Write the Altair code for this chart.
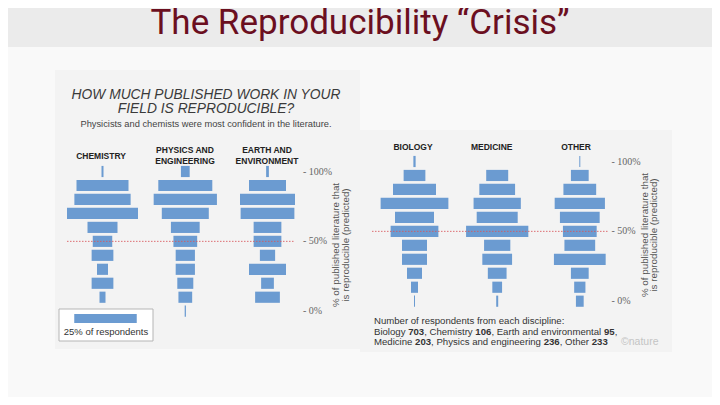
import altair as alt
import pandas as pd

# ---------------- data ----------------
levels = [100, 90, 80, 70, 60, 50, 40, 30, 20, 10, 0]   # % of literature predicted reproducible
chemistry = [0.8, 20.8, 22.5, 28.4, 12.0, 7.8, 8.7, 4.4, 8.7, 2.4, 0.0]
engineering = [3.5, 21.6, 25.3, 18.8, 11.5, 9.5, 7.7, 7.7, 6.4, 5.5, 0.5]
environment = [1.1, 14.8, 22.0, 21.5, 11.1, 11.1, 6.1, 14.8, 5.1, 9.9, 0.0]
biology = [0.9, 8.7, 17.2, 27.1, 15.6, 19.1, 10.0, 10.0, 6.0, 2.8, 0.4]
medicine = [0.0, 8.8, 14.3, 18.9, 16.4, 24.9, 10.5, 11.9, 7.5, 3.9, 0.8]
other = [0.4, 7.1, 13.1, 20.1, 15.9, 13.5, 12.3, 20.7, 7.1, 4.5, 3.1]

left_headers = ["CHEMISTRY", "PHYSICS AND\nENGINEERING", "EARTH AND\nENVIRONMENT"]
right_headers = ["BIOLOGY", "MEDICINE", "OTHER"]
tick_values = [100, 50, 0]
tick_labels = ["- 100%", "- 50%", "- 0%"]
reference_level = [50]
legend_share = [25]
legend_label = "25% of respondents"

resp_names = ["Biology", "Chemistry", "Earth and environmental",
              "Medicine", "Physics and engineering", "Other"]
resp_counts = [703, 106, 95, 203, 236, 233]

slide_title = "The Reproducibility \u201cCrisis\u201d"
fig_title = ["HOW MUCH PUBLISHED WORK IN YOUR", "FIELD IS REPRODUCIBLE?"]
fig_subtitle = "Physicists and chemists were most confident in the literature."
axis_title = ["% of published literature that", "is reproducible (predicted)"]
footnote_head = "Number of respondents from each discipline:"
credit = "\u00a9nature"

# ---------------- layout (page pixels) ----------------
W, H = 704, 389
M = 8                      # page margin
PX_PER_SHARE = 2.5         # px per % of respondents
Y100, Y0 = 171.5, 311.2    # page y of 100% and 0% rows (left image)
RIGHT_DY = -10             # right image sits a little higher
PX_PER_LVL = (Y0 - Y100) / 100.0
Y_TOP = 100 + (Y100 - M) / PX_PER_LVL
Y_BOT = -(M + H - Y0) / PX_PER_LVL

centers_px = {"chemistry": 102.5, "engineering": 185.3, "environment": 267.5,
              "biology": 414.5, "medicine": 497.2, "other": 579.8}
panel_of = {"chemistry": "left", "engineering": "left", "environment": "left",
            "biology": "right", "medicine": "right", "other": "right"}
series = {"chemistry": chemistry, "engineering": engineering, "environment": environment,
          "biology": biology, "medicine": medicine, "other": other}


def cu(p):  # page x -> x-scale units
    return (p - M) / PX_PER_SHARE


BLUE = "#6b9bd1"
FONT = "Liberation Sans"

rows = []
for name, vals in series.items():
    for lvl, s in zip(levels, vals):
        if s > 0:
            rows.append({"discipline": name, "panel": panel_of[name], "level": lvl,
                         "share": s, "center": cu(centers_px[name])})
bars_df = pd.DataFrame(rows)

x_scale = alt.Scale(domain=[0, W / PX_PER_SHARE], nice=False, zero=False)
y_scale = alt.Scale(domain=[Y_BOT, Y_TOP], nice=False, zero=False)


def px(v):
    return alt.value(v - M)


def txt(s, x, y, **kw):
    return alt.Chart(pd.DataFrame({"t": [s]})).mark_text(**kw).encode(
        x=px(x), y=px(y), text="t:N")


def rect(x0, y0, x1, y1, **kw):
    return alt.Chart(pd.DataFrame({"a": [0]})).mark_rect(**kw).encode(
        x=px(x0), x2=px(x1), y=px(y0), y2=px(y1))


def bar_layer(panel, dy):
    return alt.Chart(bars_df[bars_df.panel == panel]).transform_calculate(
        x0="datum.center - datum.share / 2", x1="datum.center + datum.share / 2",
        y0="datum.level - 4", y1="datum.level + 4",
    ).mark_rect(color=BLUE, yOffset=dy, y2Offset=dy).encode(
        x=alt.X("x0:Q", scale=x_scale, axis=None), x2="x1:Q",
        y=alt.Y("y0:Q", scale=y_scale, axis=None), y2="y1:Q",
        tooltip=["discipline:N", "level:Q", "share:Q"],
    )


def ref_line(x0, x1, dy):
    return alt.Chart(pd.DataFrame({"level": reference_level})).mark_rule(
        color="#d8565a", strokeDash=[1.5, 1.5], strokeWidth=1, opacity=0.85, yOffset=dy
    ).encode(x=px(x0), x2=px(x1), y=alt.Y("level:Q", scale=y_scale, axis=None))


def ticks(xpos, dy):
    return alt.Chart(pd.DataFrame({"v": tick_values, "lab": tick_labels})).mark_text(
        align="left", baseline="middle", font="Liberation Serif", fontSize=10,
        color="#666666", yOffset=dy
    ).encode(x=px(xpos), y=alt.Y("v:Q", scale=y_scale, axis=None), text="lab:N")


def vtitle(xc, yc):
    return [txt(axis_title[0], xc - 4.8, yc, font=FONT, fontSize=9.8, color="#555555",
                angle=270, align="center", baseline="middle"),
            txt(axis_title[1], xc + 4.8, yc, font=FONT, fontSize=9.8, color="#555555",
                angle=270, align="center", baseline="middle")]


# Arial / Liberation Sans advance widths (1/1000 em) to place bold numbers inline
ADV = {" ": 278, ",": 278, ":": 278, "B": 667, "C": 722, "E": 667, "M": 833, "O": 778,
       "P": 667, "a": 556, "c": 500, "d": 556, "e": 556, "g": 556, "h": 556, "i": 222,
       "l": 222, "m": 833, "n": 556, "o": 556, "r": 333, "s": 500, "t": 278, "v": 500,
       "y": 500}


def adv(s, fs):
    return sum(ADV.get(ch, 556) for ch in s) * fs / 1000.0


def rich_line(segments, x, y, fs, color):
    out = []
    cx = x
    for s, bold in segments:
        out.append(txt(s, cx, y, font=FONT, fontSize=fs, color=color, align="left",
                       baseline="middle", fontWeight="bold" if bold else "normal"))
        cx += adv(s, fs)
    return out


def seg_line(names, counts, last_comma):
    segs = []
    for i, (n, c) in enumerate(zip(names, counts)):
        segs.append(((", " if i else "") + n + " ", False))
        segs.append((str(c), True))
    if last_comma:
        segs.append((",", False))
    return segs


FN_FS = 9.6
foot_layers = [txt(footnote_head, 374, 321, font=FONT, fontSize=FN_FS, color="#333333",
                   align="left", baseline="middle")]
foot_layers += rich_line(seg_line(resp_names[:3], resp_counts[:3], True), 374, 331.6,
                         FN_FS, "#333333")
foot_layers += rich_line(seg_line(resp_names[3:], resp_counts[3:], False), 374, 342.2,
                         FN_FS, "#333333")

legend_center = cu(105.5)
legend_bar = alt.Chart(pd.DataFrame({"share": legend_share})).transform_calculate(
    x0=f"{legend_center} - datum.share / 2", x1=f"{legend_center} + datum.share / 2"
).mark_rect(color=BLUE).encode(
    x=alt.X("x0:Q", scale=x_scale, axis=None), x2="x1:Q", y=px(314), y2=px(323))

hdr = dict(font=FONT, fontSize=8.5, fontWeight="bold", color="#222222",
           align="center", baseline="middle")

layers = [
    rect(0, 0, 720, 47, color="#ebebeb"),
    rect(55, 70, 360, 349, color="#f3f3f3"),
    rect(360, 130, 672, 352, color="#f3f3f3"),
    bar_layer("left", 0),
    bar_layer("right", RIGHT_DY),
    ref_line(67, 295, 0),
    ref_line(372, 608, RIGHT_DY),
    ticks(303, 0),
    ticks(611.5, RIGHT_DY),
    rect(59, 309, 153, 341, fill="#ffffff", stroke="#b5b5b5", strokeWidth=1),
    legend_bar,
    txt(legend_label, 106, 331.5, font=FONT, fontSize=9.5, color="#333333",
        align="center", baseline="middle"),
    txt(slide_title, 360, 34, font="Roboto", fontSize=35, color="#6b0f1f",
        align="center", baseline="alphabetic"),
    txt(fig_title[0], 206, 95, font=FONT, fontSize=13.8, fontStyle="italic",
        color="#3a3a3a", align="center", baseline="middle"),
    txt(fig_title[1], 206, 109, font=FONT, fontSize=13.8, fontStyle="italic",
        color="#3a3a3a", align="center", baseline="middle"),
    txt(fig_subtitle, 206, 124, font=FONT, fontSize=9.3, color="#444444",
        align="center", baseline="middle"),
    txt(left_headers[0], 101, 155.5, **hdr),
    txt(left_headers[1], 185, 149.5, lineBreak="\n", lineHeight=11, **hdr),
    txt(left_headers[2], 267, 149.5, lineBreak="\n", lineHeight=11, **hdr),
    txt(right_headers[0], 413, 146.7, **hdr),
    txt(right_headers[1], 491.7, 146.7, **hdr),
    txt(right_headers[2], 576, 146.7, **hdr),
    *vtitle(341.2, 245),
    *vtitle(649.5, 235),
    *foot_layers,
    txt(credit, 621, 342.2, font=FONT, fontSize=10.5, color="#c4c4c4",
        align="left", baseline="middle"),
]

chart = alt.layer(*layers).properties(
    width=W, height=H, autosize=alt.AutoSizeParams(type="none"), padding=0,
    background="#f9f9f9",
).configure_view(stroke=None)

chart.save("out.html", embed_options={"renderer": "svg", "actions": False})
